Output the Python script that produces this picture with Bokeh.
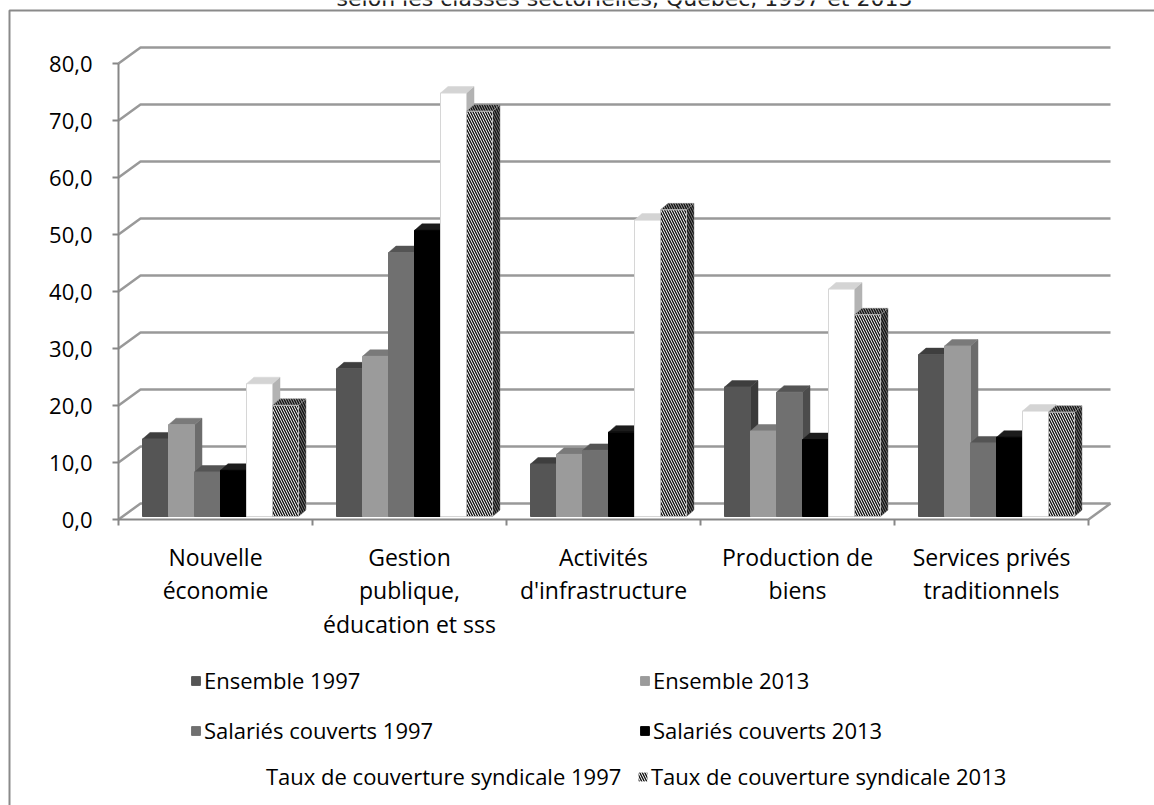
from bokeh.plotting import figure
from bokeh.models import Range1d, FixedTicker, Legend, LegendItem, ColumnDataSource
from bokeh.core.properties import value
from bokeh.embed import file_html
from bokeh.resources import INLINE

# ---- data -------------------------------------------------------------
categories = ["Nouvelle\néconomie",
              "Gestion\npublique,\néducation et sss",
              "Activités\nd'infrastructure",
              "Production de\nbiens",
              "Services privés\ntraditionnels"]

series_names = ["Ensemble 1997", "Ensemble 2013",
                "Salariés couverts 1997", "Salariés couverts 2013",
                "Taux de couverture syndicale 1997",
                "Taux de couverture syndicale 2013"]

ensemble_1997 = [13.6, 25.9, 9.2, 22.7, 28.4]
ensemble_2013 = [16.1, 28.1, 10.9, 15.0, 29.9]
salaries_1997 = [7.8, 46.3, 11.6, 21.8, 12.9]
salaries_2013 = [8.1, 50.2, 14.8, 13.5, 13.9]
taux_1997 = [23.3, 74.3, 52.0, 39.9, 18.5]
taux_2013 = [19.5, 71.1, 53.8, 35.4, 18.3]

y_ticks = [0, 10, 20, 30, 40, 50, 60, 70, 80]
y_tick_labels = ["0,0", "10,0", "20,0", "30,0", "40,0", "50,0", "60,0", "70,0", "80,0"]

title_text = "selon les classes sectorielles, Québec, 1997 et 2013"

# ---- geometry of the pseudo-3D view (in data units) -------------------
W, H = 1154, 805
PX_X = 194.0      # pixels per category
PX_Y = 5.7        # pixels per value unit
X0, Y0 = 118.0, 519.0


def sx(px):
    return (px - X0) / PX_X


def sy(py):
    return (Y0 - py) / PX_Y


DX, DY = 22 / PX_X, 16 / PX_Y          # wall / floor depth
GROUP_OFF = 24 / PX_X                  # first bar offset inside a category
BAR_W = 26 / PX_X
BASE = 3 / PX_Y
BDX, BDY = 7.5 / PX_X, 6.5 / PX_Y      # bar depth

FONT = "Open Sans"
FONT_SIZE = "22px"
GRID = "#999999"
AXIS = "#878787"

p = figure(width=W, height=H, output_backend="svg", toolbar_location=None,
           x_range=Range1d(sx(0), sx(W)), y_range=Range1d(sy(H), sy(0)),
           min_border=0, outline_line_color=None, background_fill_color="white",
           border_fill_color="white")
p.xgrid.visible = False
p.ygrid.visible = False

# ---- outer chart-area border ------------------------------------------
p.line(x=[sx(9), sx(9), sx(W)], y=[sy(H), sy(10), sy(10)],
       line_color="#8a8a8a", line_width=2)

# ---- title line, cut by the top edge of the page -----------------------
p.text(x=[sx(624)], y=[sy(-2)], text=[title_text],
       text_font=value("DejaVu Sans"), text_font_size="22px", text_color="#222222",
       text_align="center", text_baseline="alphabetic")

# ---- walls and floor --------------------------------------------------
n_cat = len(categories)
wall_xs, wall_ys = [], []
for t in y_ticks:
    wall_xs.append([0, DX, n_cat + DX])
    wall_ys.append([t, t + DY, t + DY])
wall_xs.append([n_cat, n_cat + DX])
wall_ys.append([0, DY])
p.multi_line(xs=wall_xs, ys=wall_ys, line_color=GRID, line_width=2.5)

# ---- axes ---------------------------------------------------------------
yax = p.yaxis[0]
yax.fixed_location = 0
yax.bounds = (0, 80)
yax.ticker = FixedTicker(ticks=y_ticks)
yax.major_label_overrides = {t: lab for t, lab in zip(y_ticks, y_tick_labels)}
yax.major_label_text_font = FONT
yax.major_label_text_font_size = FONT_SIZE
yax.major_label_text_color = "#000000"
yax.major_label_standoff = 20
yax.axis_line_color = AXIS
yax.axis_line_width = 2
yax.major_tick_line_color = AXIS
yax.major_tick_line_width = 2
yax.major_tick_out = 6
yax.major_tick_in = 0
yax.minor_tick_line_color = None

xax = p.xaxis[0]
xax.fixed_location = 0
xax.bounds = (0, n_cat)
xax.ticker = FixedTicker(ticks=list(range(n_cat + 1)))
xax.major_label_overrides = {i: "" for i in range(n_cat + 1)}
xax.axis_line_color = AXIS
xax.axis_line_width = 2
xax.major_tick_line_color = AXIS
xax.major_tick_line_width = 2
xax.major_tick_out = 6
xax.major_tick_in = 0
xax.minor_tick_line_color = None

# ---- bars -----------------------------------------------------------------
series_values = [ensemble_1997, ensemble_2013, salaries_1997, salaries_2013,
                 taux_1997, taux_2013]
styles = [
    dict(front="#555555", top="#3e3e3e", side="#3a3a3a", line=None, hatch=None),
    dict(front="#9b9b9b", top="#7a7a7a", side="#6c6c6c", line=None, hatch=None),
    dict(front="#707070", top="#545454", side="#4c4c4c", line=None, hatch=None),
    dict(front="#000000", top="#1c1c1c", side="#111111", line=None, hatch=None),
    dict(front="#ffffff", top="#d4d4d4", side="#b3b3b3", line="#d6d6d6", hatch=None),
    dict(front="#ffffff", top="#9a9a9a", side="#7a7a7a", line="#bbbbbb", hatch="\\"),
]

legend_items = []
for s, (vals, st) in enumerate(zip(series_values, styles)):
    left = [c + GROUP_OFF + s * BAR_W for c in range(n_cat)]
    right = [l + BAR_W for l in left]
    top = [BASE + v for v in vals]
    bottom = [BASE] * n_cat

    side_xs = [[r, r + BDX, r + BDX, r] for r in right]
    side_ys = [[BASE, BASE + BDY, t + BDY, t] for t in top]
    top_xs = [[l, r, r + BDX, l + BDX] for l, r in zip(left, right)]
    top_ys = [[t, t, t + BDY, t + BDY] for t in top]

    hatch_kw = {}
    if st["hatch"]:
        hatch_kw = dict(hatch_pattern=st["hatch"], hatch_color="#111111",
                        hatch_scale=5, hatch_weight=1.4)

    p.patches(xs=side_xs, ys=side_ys, fill_color=st["side"], line_color=st["side"],
              line_width=0.5, **hatch_kw)
    p.patches(xs=top_xs, ys=top_ys, fill_color=st["top"], line_color=st["top"],
              line_width=0.5, **hatch_kw)
    src = ColumnDataSource(dict(left=left, right=right, top=top, bottom=bottom))
    r = p.quad(left="left", right="right", top="top", bottom="bottom", source=src,
               fill_color=st["front"], line_color=st["front"] if s < 4 else None,
               line_width=1, **hatch_kw)
    if st["line"]:
        # thin rim around the light front faces
        p.quad(left="left", right="right", top="top", bottom="bottom", source=src,
               fill_color=None, line_color=st["line"], line_width=1)
    legend_items.append(LegendItem(label=series_names[s], renderers=[r]))

# ---- category labels ------------------------------------------------------
p.text(x=[c + 0.5 for c in range(n_cat)], y=[sy(540)] * n_cat, text=categories,
       text_font=value(FONT), text_font_size="23px", text_color="#000000",
       text_align="center", text_baseline="top", text_line_height=1.05)

# ---- legend ---------------------------------------------------------------
legend_style = dict(padding=0, margin=0, spacing=20,
                    glyph_width=11, glyph_height=11, label_height=26,
                    label_standoff=3, label_text_font=FONT,
                    label_text_font_size=FONT_SIZE, label_text_color="#000000",
                    border_line_color=None, background_fill_alpha=0)

# first two rows in a two-column grid
legend_top = Legend(items=legend_items[:4], orientation="horizontal", ncols=2,
                    location=(190, 60), label_width=415, **legend_style)
# last row: the two coverage-rate entries
legend_t97 = Legend(items=[legend_items[4]], location=(252, 14), **legend_style)
legend_t13 = Legend(items=[legend_items[5]], location=(637, 14), **legend_style)
for lg in (legend_top, legend_t97, legend_t13):
    p.add_layout(lg, "center")

open("out.html", "w").write(file_html(p, INLINE))
